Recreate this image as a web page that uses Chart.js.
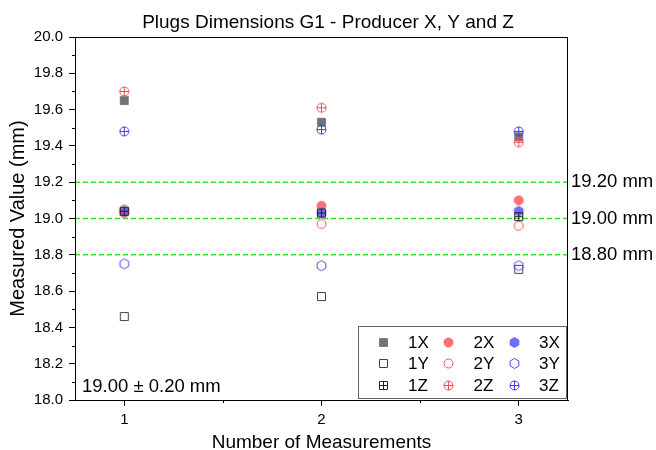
<!DOCTYPE html>
<html>
<head>
<meta charset="utf-8">
<script src="https://cdn.jsdelivr.net/npm/chart.js@4.4.1/dist/chart.umd.min.js"></script>
<style>
  html, body { margin: 0; padding: 0; background: #fff; }
  #wrap { width: 656px; height: 450px; }
</style>
</head>
<body>
<div id="wrap"><canvas id="myChart"></canvas></div>
<script>
// measurement number
const measurements = [1, 2, 3];
// series values (mm)
const vals1X = [19.65, 19.53, 19.45];
const vals2X = [19.03, 19.07, 19.10];
const vals3X = [19.04, 19.03, 19.04];
const vals1Y = [18.46, 18.57, 18.72];
const vals2Y = [19.05, 18.97, 18.96];
const vals3Y = [18.75, 18.74, 18.74];
const vals1Z = [19.04, 19.03, 19.01];
const vals2Z = [19.70, 19.61, 19.42];
const vals3Z = [19.48, 19.49, 19.48];
// tolerance lines
const limitValues = [19.20, 19.00, 18.80];
const limitLabels = ['19.20 mm', '19.00 mm', '18.80 mm'];
const yTicks = [18.0, 18.2, 18.4, 18.6, 18.8, 19.0, 19.2, 19.4, 19.6, 19.8, 20.0];
const xTicks = [1, 2, 3];
const noteText = '19.00 \u00b1 0.20 mm';

const FONT = "'Liberation Sans', Arial, sans-serif";

function marker(shape, fill, stroke, plus){
    const c = document.createElement('canvas');
    c.width = 13; c.height = 13;
    const g = c.getContext('2d');
    const m = 6.5;
    let r = 4.5;
    g.beginPath();
    if (shape == 'square') {
        r = 4;
        g.rect(m - r, m - r, 2 * r, 2 * r);
    } else if (shape == 'circle') {
        g.arc(m, m, r, 0, 2 * Math.PI);
    } else {
        r = 5;
        for (let i = 0; i < 6; i++) {
            const a = -Math.PI / 2 + i * Math.PI / 3;
            if (i == 0) g.moveTo(m + r * Math.cos(a), m + r * Math.sin(a));
            else g.lineTo(m + r * Math.cos(a), m + r * Math.sin(a));
        }
        g.closePath();
    }
    if (fill) { g.fillStyle = fill; g.fill(); }
    if (stroke) { g.strokeStyle = stroke; g.lineWidth = 1; g.stroke(); }
    if (plus) {
        g.beginPath();
        g.moveTo(m - r, m); g.lineTo(m + r, m);
        g.moveTo(m, m - r); g.lineTo(m, m + r);
        g.strokeStyle = stroke; g.lineWidth = 1; g.stroke();
    }
    return c;
}

function pts(arr){
    return measurements.map((x, i) => ({x: x, y: arr[i]}));
}

const series = [
    {label: '1X', data: vals1X, style: marker('square', 'rgba(100,100,100,0.9)', 'rgba(120,120,120,0.9)', false)},
    {label: '2X', data: vals2X, style: marker('circle', 'rgba(255,90,90,0.85)', 'rgba(255,90,90,0.85)', false)},
    {label: '3X', data: vals3X, style: marker('hex', 'rgba(95,95,255,0.9)', 'rgba(95,95,255,0.9)', false)},
    {label: '1Y', data: vals1Y, style: marker('square', null, '#444', false)},
    {label: '2Y', data: vals2Y, style: marker('circle', null, '#ff4d4d', false)},
    {label: '3Y', data: vals3Y, style: marker('hex', null, '#4a4aff', false)},
    {label: '1Z', data: vals1Z, style: marker('square', null, '#222', true)},
    {label: '2Z', data: vals2Z, style: marker('circle', null, '#ff4d4d', true)},
    {label: '3Z', data: vals3Z, style: marker('circle', null, '#3c3cff', true)},
];

// later series on top, like the original plot
const datasets = series.map((s, i) => ({
    type: 'scatter',
    label: s.label,
    data: pts(s.data),
    pointStyle: s.style,
    pointRadius: 5,
    showLine: false,
    order: 20 - i
}));

limitValues.forEach(v => {
    datasets.push({
        type: 'line',
        label: 'limit',
        data: [{x: 0.75, y: v}, {x: 3.25, y: v}],
        borderColor: '#2fe62f',
        borderWidth: 1.5,
        borderDash: [5, 3],
        pointRadius: 0,
        fill: false,
        order: 30
    });
});

// frame, minor ticks, note, legend
const extras = {
    id: 'extras',
    afterDatasetsDraw(chart){
        const c = chart.ctx;
        const a = chart.chartArea;
        const xs = chart.scales.x, ys = chart.scales.y;
        c.save();
        c.strokeStyle = '#000';
        c.lineWidth = 1;
        c.strokeRect(Math.round(a.left) + 0.5, Math.round(a.top) + 0.5, Math.round(a.right - a.left) - 1, Math.round(a.bottom - a.top));
        c.beginPath();
        for (let v = 18.1; v < 20; v += 0.2) {
            const py = Math.round(ys.getPixelForValue(v)) + 0.5;
            c.moveTo(a.left - 3, py); c.lineTo(a.left, py);
        }
        [1.5, 2.5].forEach(v => {
            const px = Math.round(xs.getPixelForValue(v)) + 0.5;
            c.moveTo(px, a.bottom); c.lineTo(px, a.bottom + 3);
        });
        c.stroke();

        c.fillStyle = '#000';
        c.font = '18.5px ' + FONT;
        c.textBaseline = 'alphabetic';
        c.textAlign = 'left';
        c.fillText(noteText, a.left + 7, a.bottom - 8);

        // legend box 3 x 3
        const w = 208, h = 72;
        const bx = a.right - w - 2, by = a.bottom - h - 2;
        c.fillStyle = '#fff';
        c.fillRect(bx, by, w, h);
        c.strokeStyle = '#666';
        c.strokeRect(bx + 0.5, by + 0.5, w, h);
        c.font = '17px ' + FONT;
        c.textBaseline = 'middle';
        series.forEach((s, i) => {
            const col = i % 3, row = Math.floor(i / 3);
            const mx = bx + 25 + col * 65.5;
            const my = by + 16 + row * 21.5;
            c.drawImage(s.style, Math.round(mx - 6.5), Math.round(my - 6.5));
            c.fillStyle = '#000';
            c.fillText(s.label, mx + 25, my + 1);
        });
        c.restore();
    }
};

new Chart(document.getElementById('myChart'), {
    data: { datasets: datasets },
    options: {
        responsive: true,
        maintainAspectRatio: false,
        animation: false,
        layout: { padding: 0 },
        plugins: {
            legend: { display: false },
            tooltip: { enabled: false },
            title: {
                display: true,
                text: 'Plugs Dimensions G1 - Producer X, Y and Z',
                color: '#000',
                font: { family: FONT, size: 19, weight: 'normal', lineHeight: 1.2 },
                padding: { top: 11, bottom: 3.2 }
            }
        },
        scales: {
            x: {
                type: 'linear',
                min: 0.75,
                max: 3.25,
                afterBuildTicks: s => { s.ticks = xTicks.map(v => ({value: v})); },
                afterFit: s => { s.height = 50; },
                ticks: { color: '#000', font: { family: FONT, size: 15 }, padding: 5 },
                grid: { drawOnChartArea: false, tickLength: 6, color: '#000' },
                border: { color: '#000' },
                title: {
                    display: true,
                    text: 'Number of Measurements',
                    color: '#000',
                    font: { family: FONT, size: 19, lineHeight: 0.8 },
                    padding: { top: 0, bottom: 0 }
                }
            },
            y: {
                type: 'linear',
                position: 'left',
                min: 18,
                max: 20,
                afterBuildTicks: s => { s.ticks = yTicks.map(v => ({value: v})); },
                afterFit: s => { s.width = 75; },
                ticks: { color: '#000', font: { family: FONT, size: 15 }, padding: 6, callback: v => v.toFixed(1) },
                grid: { drawOnChartArea: false, tickLength: 6, color: '#000' },
                border: { color: '#000' },
                title: {
                    display: true,
                    text: 'Measured Value (mm)',
                    color: '#000',
                    font: { family: FONT, size: 20, lineHeight: 1.2 },
                    padding: { top: 6, bottom: 0 }
                }
            },
            y2: {
                type: 'linear',
                position: 'right',
                min: 18,
                max: 20,
                afterBuildTicks: s => { s.ticks = limitValues.map(v => ({value: v})); },
                afterFit: s => { s.width = 88; },
                ticks: {
                    color: '#000',
                    font: { family: FONT, size: 18.5 },
                    padding: 3,
                    callback: (v) => limitLabels[limitValues.indexOf(v)]
                },
                grid: { display: false, drawTicks: false, tickLength: 0 },
                border: { display: false }
            }
        }
    },
    plugins: [extras]
});
</script>
</body>
</html>
